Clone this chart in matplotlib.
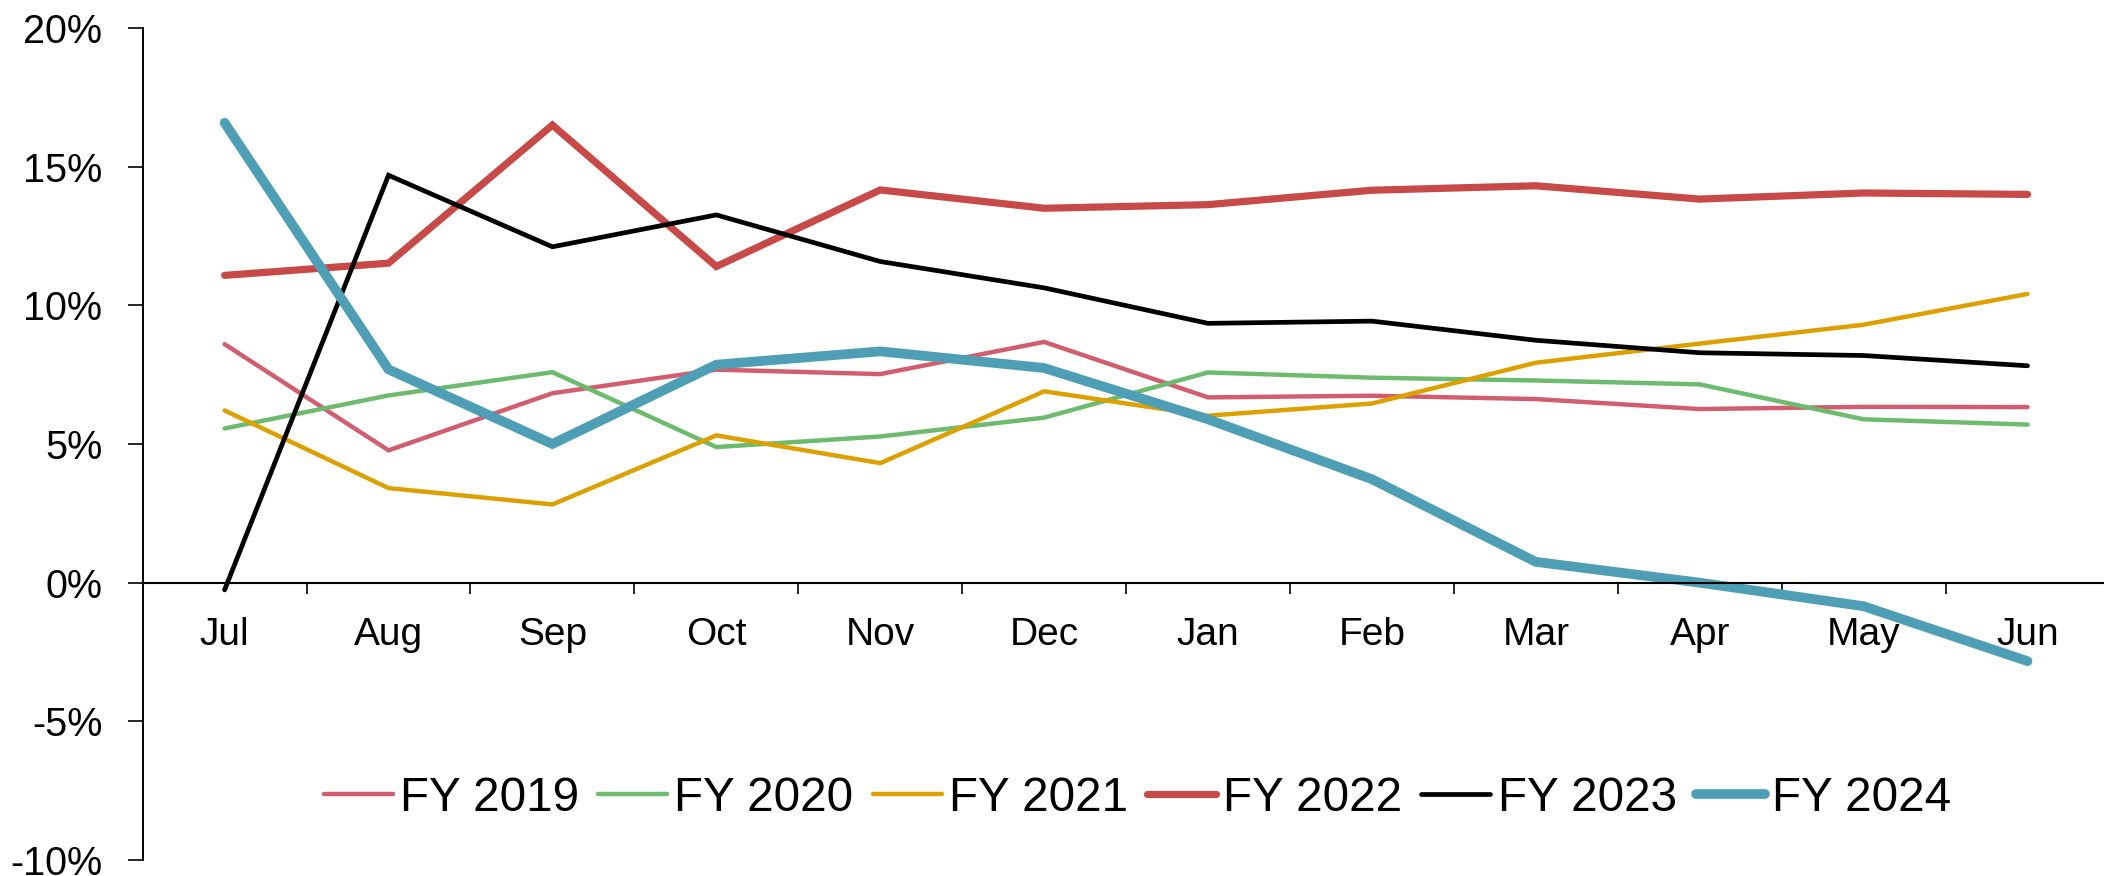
import matplotlib
matplotlib.use("Agg")
import matplotlib.pyplot as plt
from matplotlib.ticker import FixedLocator

plt.rcParams['font.family'] = ['Liberation Sans', 'DejaVu Sans']

# month-on-month growth by fiscal year (%)
months = ['Jul', 'Aug', 'Sep', 'Oct', 'Nov', 'Dec', 'Jan', 'Feb', 'Mar', 'Apr', 'May', 'Jun']
fy2019 = [8.6, 4.77, 6.83, 7.68, 7.52, 8.68, 6.68, 6.74, 6.62, 6.26, 6.34, 6.33]
fy2020 = [5.56, 6.75, 7.59, 4.89, 5.27, 5.95, 7.58, 7.39, 7.29, 7.15, 5.89, 5.70]
fy2021 = [6.21, 3.41, 2.82, 5.31, 4.31, 6.90, 6.02, 6.46, 7.93, 8.62, 9.30, 10.41]
fy2022 = [11.08, 11.52, 16.50, 11.40, 14.16, 13.50, 13.63, 14.15, 14.31, 13.83, 14.05, 14.00]
fy2023 = [-0.26, 14.69, 12.11, 13.26, 11.58, 10.63, 9.35, 9.43, 8.74, 8.29, 8.19, 7.82]
fy2024 = [16.58, 7.69, 5.00, 7.86, 8.34, 7.74, 5.89, 3.73, 0.75, 0.0, -0.85, -2.83]

series_names = ['FY 2019', 'FY 2020', 'FY 2021', 'FY 2022', 'FY 2023', 'FY 2024']
series_vals = [fy2019, fy2020, fy2021, fy2022, fy2023, fy2024]
colors = ['#D15E6E', '#6CBB6E', '#DCA000', '#C84A48', '#000000', '#4E9EB5']
widths = [3.2, 3.2, 3.2, 5.2, 3.4, 7.0]

y_ticks = [-10, -5, 0, 5, 10, 15, 20]
y_labels = ['-10%', '-5%', '0%', '5%', '10%', '15%', '20%']

fig = plt.figure(figsize=(21.04, 8.76), dpi=100)
ax = fig.add_axes([0.0678, 0.01826, 0.9348, 0.9498])

x = list(range(len(months)))
for name, vals, c, lw in zip(series_names, series_vals, colors, widths):
    ax.plot(x, vals, color=c, lw=lw, label=name, solid_capstyle='round',
            solid_joinstyle='miter', clip_on=False)

ax.set_xlim(-0.5, len(months) - 0.5)
ax.set_ylim(-10, 20)

ax.spines['top'].set_visible(False)
ax.spines['right'].set_visible(False)
ax.spines['bottom'].set_position(('data', 0))
ax.spines['bottom'].set_linewidth(1.5)
ax.spines['left'].set_linewidth(1.4)

# ticks between categories, labels centred on them
ax.xaxis.set_major_locator(FixedLocator([i + 0.5 for i in range(len(months) - 1)]))
ax.xaxis.set_minor_locator(FixedLocator(x))
ax.set_xticklabels([], minor=False)
ax.set_xticklabels(months, minor=True)
ax.tick_params(axis='x', which='major', direction='out', length=8, width=1.2)
ax.tick_params(axis='x', which='minor', length=0, pad=25, labelsize=28)

ax.set_yticks(y_ticks)
ax.set_yticklabels(y_labels)
ax.tick_params(axis='y', direction='out', length=11, width=1.2, pad=18, labelsize=28.5)

ax.legend(loc='center', bbox_to_anchor=(0.5406, 0.0885), bbox_transform=fig.transFigure,
          ncol=6, frameon=False, fontsize=34.3, handlelength=1.45, handletextpad=0.15,
          columnspacing=0.4, borderpad=0)

fig.savefig('out.png', dpi=100)
